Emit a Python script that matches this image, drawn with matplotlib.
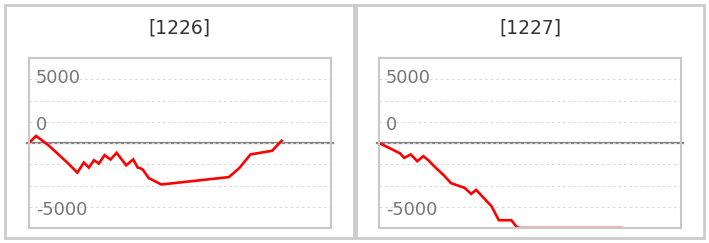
import numpy as np
import matplotlib.pyplot as plt
from matplotlib.patches import Rectangle
from matplotlib.transforms import blended_transform_factory

# panel titles
titles = ["[1226]", "[1227]"]

# cumulative balance per panel (x = day index, y = value)
x_1226 = [0, 1.4, 3.8, 4.2, 7.8, 9.6, 10.9, 11.9, 12.9, 13.9, 15.0, 16.2, 17.4,
          19.3, 20.7, 21.6, 22.0, 22.6, 23.8, 26.3, 39.7, 41.8, 44.0, 48.3, 50.2]
y_1226 = [0, 556, -159, -294, -1611, -2325, -1532, -1929, -1349, -1611, -952,
          -1294, -770, -1746, -1294, -1929, -1960, -2087, -2754, -3254, -2675,
          -1960, -897, -611, 183]

x_1227 = [0, 2.2, 4.2, 5.0, 6.3, 7.6, 8.8, 9.8, 11.1, 12.9, 14.3, 17.0, 18.3,
          19.3, 21.7, 22.3, 23.8, 26.3, 27.3, 27.9, 33.0, 38.0, 43.0, 48.3]
y_1227 = [0, -421, -817, -1167, -897, -1429, -1032, -1349, -1881, -2540, -3151,
          -3516, -3992, -3675, -4690, -4921, -6056, -6056, -6564, -6667, -6667,
          -6667, -6667, -6667]

series = [(x_1226, y_1226), (x_1227, y_1227)]

y_labels = [5000, 0, -5000]
ylim = 20000 / 3
W, H = 709, 243

fig = plt.figure(figsize=(W / 100, H / 100), dpi=100)
fig.patch.set_facecolor('white')

# outer panel frames (pixel coords)
frames = [(5, 5, 349, 233), (356, 5, 348, 233)]
for fx, fy, fw, fh in frames:
    fig.patches.append(Rectangle((fx / W, 1 - (fy + fh) / H), fw / W, fh / H,
                                 transform=fig.transFigure, fill=False,
                                 edgecolor='#cccccc', linewidth=2.0))

ax_left = [29, 379]
for i, (xs, ys) in enumerate(series):
    ax = fig.add_axes([ax_left[i] / W, (H - 228) / H, 302 / W, 170 / H])
    ax.plot(xs, ys, color='#ff0000', linewidth=1.9, zorder=2,
            solid_joinstyle='miter')
    ax.set_xlim(0, 60)
    ax.set_ylim(-ylim, ylim)
    ax.set_yticks(np.arange(-3, 4) * 5000 / 3)
    ax.set_xticks([])
    ax.tick_params(left=False, labelleft=False)
    ax.grid(axis='y', color='#dcdcdc', linestyle=(0, (2.5, 2.5)), linewidth=0.8)
    ax.axhline(0, xmin=-0.007, xmax=1.007, color='#808080', linewidth=1.6,
               clip_on=False, zorder=1.5)
    for s in ax.spines.values():
        s.set_color('#c8c8c8')
        s.set_linewidth(1.5)

    trans = blended_transform_factory(ax.transAxes, ax.transData)
    offsets = {5000: 1, 0: 18, -5000: -3}
    for v in y_labels:
        ax.annotate(f"{v}", xy=(0, v), xycoords=trans,
                    xytext=(7, offsets[v]), textcoords='offset pixels',
                    ha='left', va='center', fontsize=12.8, color='#777777')

    cx = (frames[i][0] + frames[i][2] / 2) / W
    fig.text(cx, 1 - 28 / H, titles[i], ha='center', va='center',
             fontsize=13.5, color='#333333')

fig.savefig('out.png', dpi=100, facecolor='white')
